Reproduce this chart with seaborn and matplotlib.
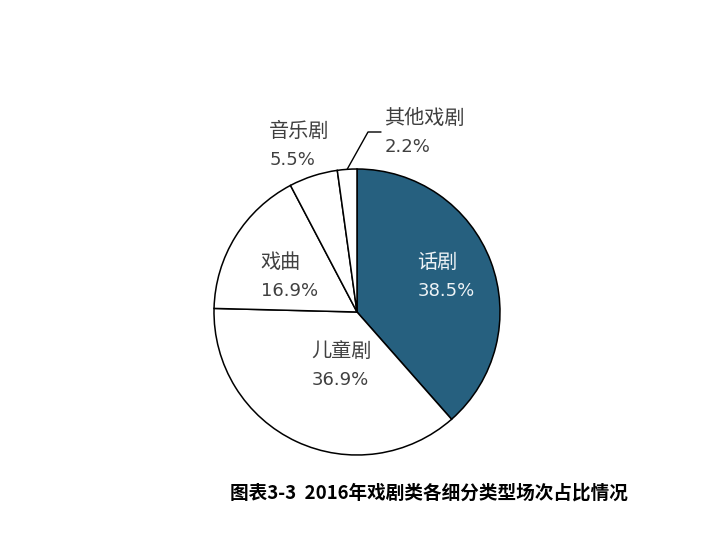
import numpy as np
import matplotlib
matplotlib.use("Agg")
import matplotlib.pyplot as plt
import seaborn as sns

sns.set_theme(style="white")
plt.rcParams['font.family'] = ['Noto Sans CJK SC', 'DejaVu Sans']

categories = ["话剧", "儿童剧", "戏曲", "音乐剧", "其他戏剧"]
shares = [38.5, 36.9, 16.9, 5.5, 2.2]
fill_colors = ["#26607F", "white", "white", "white", "white"]
text_colors = ["#EEF3F6", "#404040", "#404040", "#404040", "#404040"]
title = "图表3-3  2016年戏剧类各细分类型场次占比情况"

W, H = 721, 533
cx, cy, r = 357, 312, 143
# label left edge / name row, in pixels
label_px = [(418, 262), (312, 351), (261, 262), (270, 131), (385, 118)]


def to_pie(px, py):
    return (px - cx) / r, (cy - py) / r


fig = plt.figure(figsize=(W / 100, H / 100), dpi=100)
ax = fig.add_axes([(cx - r) / W, (H - cy - r) / H, 2 * r / W, 2 * r / H])

wedges, _ = ax.pie(shares, colors=fill_colors, startangle=90, counterclock=False,
                   wedgeprops=dict(edgecolor="black", linewidth=1.1))
ax.set_xlim(-1, 1)
ax.set_ylim(-1, 1)
ax.set_aspect("equal")
ax.axis("off")

for name, v, (px, py), c in zip(categories, shares, label_px, text_colors):
    x, y = to_pie(px - 1, py)
    ax.text(x, y, name, ha="left", va="center", fontsize=14.5, color=c,
            clip_on=False)
    x, y = to_pie(px, py + 29)
    ax.text(x, y, f"{v}%", ha="left", va="center", fontsize=13, color=c,
            family=["DejaVu Sans", "Noto Sans CJK SC"], clip_on=False)

# leader line for the smallest slice
w = wedges[-1]
mid = np.deg2rad((w.theta1 + w.theta2) / 2)
ex, ey = to_pie(368, 132)
fx, fy = to_pie(381, 132)
ax.plot([np.cos(mid), ex, fx], [np.sin(mid), ey, fy],
        color="black", lw=1.0, clip_on=False)

fig.text(429 / W, (H - 493) / H, title, ha="center", va="center",
         fontsize=13.4, fontweight="bold", color="black")

fig.savefig("out.png", dpi=100)
